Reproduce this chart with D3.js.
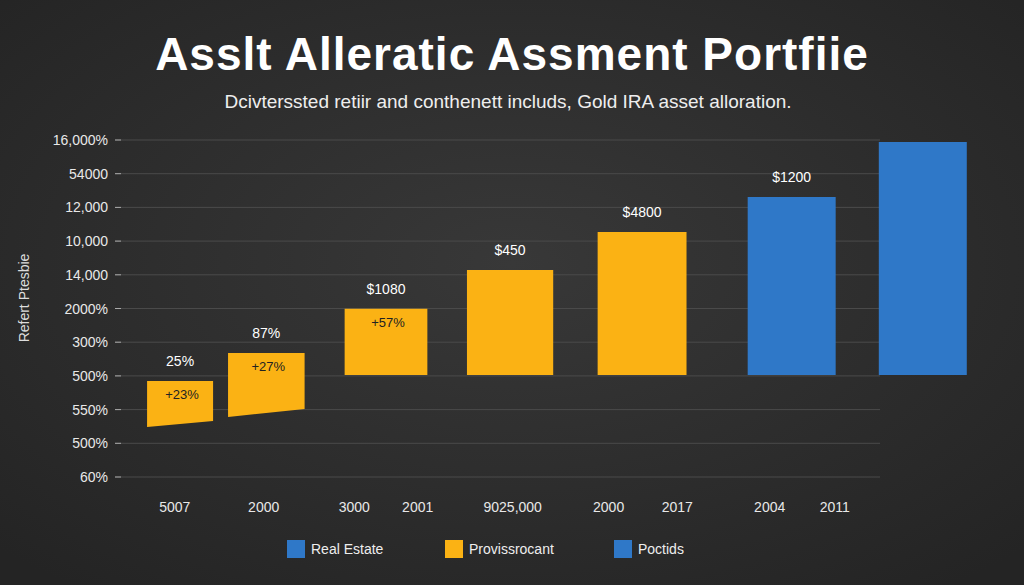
<!DOCTYPE html>
<html><head><meta charset="utf-8">
<script src="https://cdn.jsdelivr.net/npm/d3@7"></script>
<style>
html,body{margin:0;padding:0;background:#2c2c2c;}
svg{display:block;font-family:"Liberation Sans",Arial,sans-serif;}
</style></head>
<body><svg id="chart"></svg>
<script>
// Data
const tickLabels = ["16,000%","54000","12,000","10,000","14,000","2000%","300%","500%","550%","500%","60%"];
const barPos = [9.1, 18.9, 32.5, 46.6, 61.6, 78.6, 93.5];          // bar centres, x units
const barWidth = [7.5, 8.7, 9.4, 9.8, 10.1, 10.0, 10.0];
const barTop = [28.5, 36.8, 49.9, 61.4, 72.7, 83.1, 99.4];
const barBottomL = [14.8, 17.8, 30.3, 30.3, 30.3, 30.3, 30.3];
const barBottomR = [16.6, 20.2, 30.3, 30.3, 30.3, 30.3, 30.3];
const barSeries = [1, 1, 1, 1, 1, 0, 0];
const topLabels = ["25%", "87%", "$1080", "$450", "$4800", "$1200", ""];
const innerLabels = ["+23%", "+27%", "+57%", "", "", "", ""];
const xLabels = ["5007","2000","3000","2001","9025,000","2000","2017","2004","2011"];
const xLabelPos = [8.5, 18.6, 28.9, 36.1, 46.9, 57.8, 65.6, 76.1, 83.5];
const legendNames = ["Real Estate","Provissrocant","Poctids"];
const legendColors = ["#2f78c8","#fbb214","#2f78c8"];
const colors = ["#2f78c8","#fbb214"];

const width = 1024, height = 585;
const svg = d3.select('#chart').attr('width', width).attr('height', height);

const bg = svg.append('defs').append('radialGradient').attr('id','bg').attr('cx','50%').attr('cy','45%').attr('r','70%');
bg.append('stop').attr('offset','0%').attr('stop-color','#383838');
bg.append('stop').attr('offset','100%').attr('stop-color','#242424');
svg.append('rect').attr('width', width).attr('height', height).attr('fill','url(#bg)');

svg.append('text').attr('x', 512).attr('y', 70).attr('text-anchor','middle')
  .attr('fill','#fff').attr('font-size', 46).attr('font-weight','bold').attr('letter-spacing', 1)
  .text('Asslt Alleratic Assment Portfiie');
svg.append('text').attr('x', 508).attr('y', 108).attr('text-anchor','middle')
  .attr('fill','#eee').attr('font-size', 19).text('Dcivterssted retiir and conthenett includs, Gold IRA asset alloration.');

// Scales
const x = d3.scaleLinear().domain([0, 100]).range([100, 980]);
const y = d3.scaleLinear().domain([0, 100]).range([477, 140]);
const yTick = d3.scalePoint().domain(d3.range(tickLabels.length)).range([140, 477]);

svg.append('g').selectAll('line').data(tickLabels).join('line')
  .attr('x1', 115).attr('x2', 880).attr('y1', (d, i) => yTick(i)).attr('y2', (d, i) => yTick(i))
  .attr('stroke', '#4a4a4a').attr('stroke-width', 1);
svg.append('g').selectAll('line').data(tickLabels).join('line')
  .attr('x1', 115).attr('x2', 121).attr('y1', (d, i) => yTick(i)).attr('y2', (d, i) => yTick(i))
  .attr('stroke', '#aaa').attr('stroke-width', 1);
svg.append('g').selectAll('text').data(tickLabels).join('text')
  .attr('x', 108).attr('y', (d, i) => yTick(i) + 5).attr('text-anchor','end')
  .attr('fill','#e8e8e8').attr('font-size', 14).text(d => d);

svg.append('text').attr('transform', 'translate(29,298) rotate(-90)').attr('text-anchor','middle')
  .attr('fill','#ddd').attr('font-size', 14).text('Refert Ptesbie');

// Bars
const idx = d3.range(barPos.length);
svg.append('g').selectAll('path').data(idx).join('path')
  .attr('d', i => {
    const l = x(barPos[i] - barWidth[i] / 2), r = x(barPos[i] + barWidth[i] / 2);
    return `M${l},${y(barTop[i])}L${r},${y(barTop[i])}L${r},${y(barBottomR[i])}L${l},${y(barBottomL[i])}Z`;
  })
  .attr('fill', i => colors[barSeries[i]]);

svg.append('g').selectAll('text').data(idx).join('text')
  .attr('x', i => x(barPos[i])).attr('y', i => y(barTop[i]) - 15).attr('text-anchor','middle')
  .attr('fill','#fff').attr('font-size', 14).text(i => topLabels[i]);
svg.append('g').selectAll('text').data(idx).join('text')
  .attr('x', i => x(barPos[i]) + 2).attr('y', i => y(barTop[i]) + 18).attr('text-anchor','middle')
  .attr('fill','#222').attr('font-size', 13).text(i => innerLabels[i]);

svg.append('g').selectAll('text').data(xLabels).join('text')
  .attr('x', (d, i) => x(xLabelPos[i])).attr('y', 512).attr('text-anchor','middle')
  .attr('fill','#e8e8e8').attr('font-size', 14).text(d => d);

// Legend
const legendX = [287, 445, 614];
const lg = svg.append('g').selectAll('g').data(legendNames).join('g')
  .attr('transform', (d, i) => `translate(${legendX[i]},540)`);
lg.append('rect').attr('width', 18).attr('height', 18).attr('fill', (d, i) => legendColors[i]);
lg.append('text').attr('x', 24).attr('y', 14).attr('fill','#eee').attr('font-size', 14).text(d => d);
</script></body></html>
